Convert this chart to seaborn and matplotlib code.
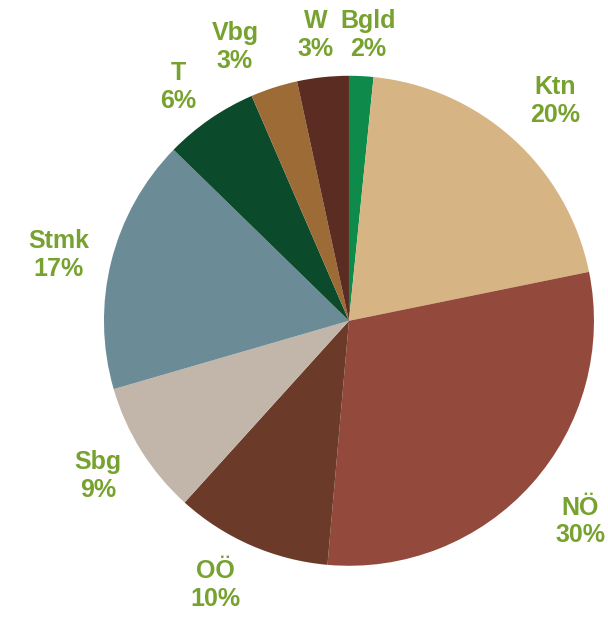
import matplotlib
matplotlib.use("Agg")
import numpy as np
import matplotlib.pyplot as plt
import seaborn as sns

categories = ["Bgld", "Ktn", "NÖ", "OÖ", "Sbg", "Stmk", "T", "Vbg", "W"]
values = [1.6, 20.2, 29.6, 10.3, 8.8, 16.8, 6.2, 3.1, 3.4]
colors = ["#0E8A4A", "#D6B483", "#934A3C", "#6C3A28", "#C2B6AA",
          "#6B8C96", "#0B4A2A", "#9C6B36", "#5B2C22"]
label_dist = [1.17, 1.229, 1.25, 1.208, 1.204, 1.214, 1.18, 1.21, 1.175]
label_turn = [-0.9, -1.0, 0.8, -3.3, -0.3, 1.2, 1.6, 4.8, 0.5]

sns.set_theme(style="white")
plt.rcParams['font.family'] = ['Liberation Sans', 'DejaVu Sans']

fig = plt.figure(figsize=(6.08, 6.17), dpi=100)
ax = fig.add_axes([0.171, 0.083, 490 / 608, 490 / 617])

labels = [f"{c}\n{round(v)}%" for c, v in zip(categories, values)]
wedges, texts = ax.pie(values, labels=labels, colors=sns.color_palette(colors),
                       startangle=90, counterclock=False, radius=1.0,
                       labeldistance=1.2,
                       wedgeprops=dict(linewidth=0),
                       textprops=dict(color="#77A22F", fontsize=18,
                                      fontweight="bold", linespacing=1.2))
for w, t, d, o in zip(wedges, texts, label_dist, label_turn):
    ang = np.deg2rad((w.theta1 + w.theta2) / 2 + o)
    t.set_position((d * np.cos(ang), d * np.sin(ang)))
    t.set_horizontalalignment("center")
    t.set_verticalalignment("center")

ax.set_xlim(-1, 1)
ax.set_ylim(-1, 1)
ax.set_aspect("equal")
ax.axis("off")

fig.savefig("out.png", dpi=100)
